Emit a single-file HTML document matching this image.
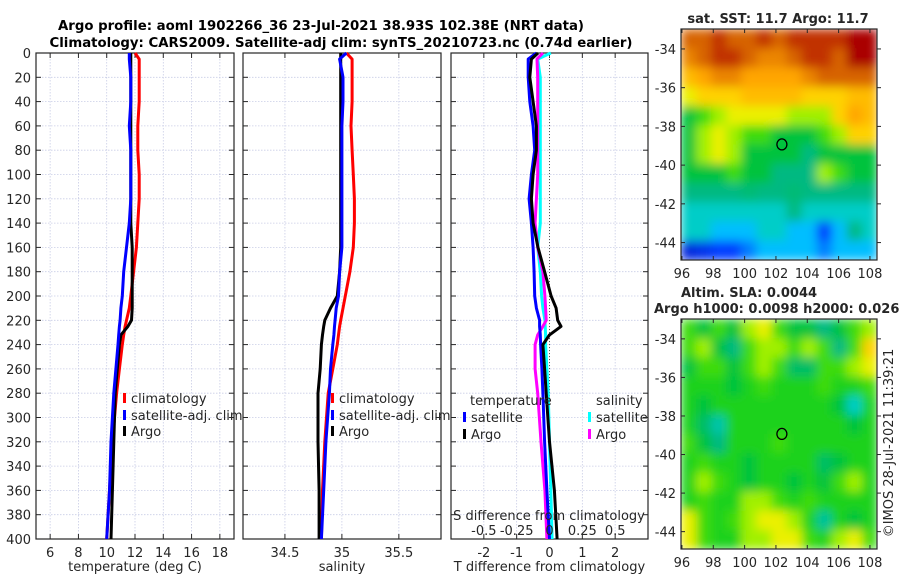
<!DOCTYPE html>
<html><head><meta charset="utf-8">
<style>
html,body{margin:0;padding:0;background:#fff;}
svg{display:block;font-family:"DejaVu Sans","Liberation Sans",sans-serif;}
</style></head>
<body>
<svg id="chart" width="900" height="580" viewBox="0 0 900 580" xmlns="http://www.w3.org/2000/svg">
<defs>
<filter id="smooth" x="0" y="0" width="1" height="1"><feGaussianBlur stdDeviation="5" edgeMode="duplicate"/></filter>
<clipPath id="clipTop"><rect x="681" y="29" width="196" height="231"/></clipPath>
<clipPath id="clipBot"><rect x="681" y="319" width="196" height="230"/></clipPath>
</defs>
<text x="321" y="30" font-size="13" font-weight="bold" text-anchor="middle" textLength="526" lengthAdjust="spacingAndGlyphs">Argo profile: aoml 1902266_36 23-Jul-2021 38.93S 102.38E (NRT data)</text>
<text x="341" y="47" font-size="13" font-weight="bold" text-anchor="middle" textLength="583" lengthAdjust="spacingAndGlyphs">Climatology: CARS2009. Satellite-adj clim: synTS_20210723.nc (0.74d earlier)</text>
<g id="layer"></g>
</svg>
<script>
// ---------- profile data ----------
const depths = [0,5,20,40,60,80,100,120,140,160,180,200,210,220,225,232,240,260,280,320,360,400];
const tClim = [12.0,12.3,12.3,12.3,12.2,12.2,12.3,12.3,12.2,12.1,11.9,11.7,11.6,11.4,11.3,11.2,11.1,10.9,10.7,10.4,10.2,10.0];
const tSat  = [11.6,11.6,11.7,11.7,11.6,11.7,11.7,11.7,11.6,11.4,11.2,11.1,11.0,10.95,10.9,10.85,10.8,10.65,10.5,10.3,10.2,10.0];
const tArgo = [11.7,11.7,11.7,11.7,11.7,11.7,11.7,11.7,11.7,11.8,11.8,11.8,11.8,11.75,11.5,11.0,10.9,10.75,10.6,10.5,10.4,10.3];
const sClim = [35.04,35.09,35.09,35.09,35.08,35.09,35.1,35.11,35.11,35.1,35.07,35.03,35.01,34.99,34.98,34.97,34.96,34.92,34.88,34.85,34.83,34.82];
const sSat  = [35.04,34.98,35.01,35.01,35.0,35.0,35.0,35.0,35.0,35.0,34.98,34.97,34.95,34.94,34.935,34.93,34.92,34.9,34.89,34.86,34.84,34.82];
const sArgo = [34.99,34.99,34.99,34.99,34.99,34.99,34.99,34.99,34.99,34.99,34.98,34.96,34.9,34.85,34.84,34.83,34.82,34.81,34.79,34.79,34.8,34.8];
const dTSat  = [-0.4,-0.65,-0.65,-0.6,-0.5,-0.45,-0.55,-0.62,-0.55,-0.5,-0.47,-0.45,-0.4,-0.3,-0.3,-0.28,-0.27,-0.23,-0.2,-0.15,-0.08,0];
const dTArgo = [-0.35,-0.55,-0.6,-0.5,-0.4,-0.4,-0.5,-0.55,-0.5,-0.35,-0.15,0.05,0.2,0.25,0.35,0,-0.2,-0.15,-0.1,0,0.15,0.23];
const dSSat  = [0.01,-0.09,-0.07,-0.07,-0.07,-0.07,-0.07,-0.07,-0.07,-0.09,-0.07,-0.06,-0.05,-0.035,-0.033,-0.03,-0.03,-0.02,-0.01,0,0.01,0.02];
const dSArgo = [-0.05,-0.095,-0.09,-0.09,-0.09,-0.09,-0.09,-0.1,-0.11,-0.09,-0.05,-0.035,-0.03,-0.025,-0.05,-0.09,-0.11,-0.11,-0.09,-0.065,-0.035,-0.02];
const depthTicks = [0,20,40,60,80,100,120,140,160,180,200,220,240,260,280,300,320,340,360,380,400];
const tempTicks = [6,8,10,12,14,16,18];
const salTicks = [34.5,35,35.5];
const dTTicks = [-2,-1,0,1,2];
const dSTicks = [-0.5,-0.25,0,0.25,0.5];
const dSTickLabels = ["-0.5","-0.25","0","0.25","0.5"];
// ---------- map data (color index 0..10) ----------
const lonTicks = [96,98,100,102,104,106,108];
const latTicks = [-34,-36,-38,-40,-42,-44];
const argoLon = 102.38, argoLat = -38.93;
const sstGrid = [
[8,8,8.5,8,8,8.5,8,8.5,8.5,8.5,8.5,9,9],
[7.5,8,8.5,8.5,8,7.5,7.5,8,8.5,8.5,8,9,9],
[6.5,7,7.5,7.5,7,7,7,7,7.5,8,8,8,8],
[5.5,6,6,6,6.5,6.5,6.5,6.5,6,6,6,6.5,6.5],
[4,4.5,5,5.5,5.5,5.5,5.5,5,5,5,6,7,6.5],
[4,5,5.5,5,4.5,4.5,4,4,4,4.5,5,6,6],
[4,5,5.5,5,4,4,4,4,3.5,4,4,4,4],
[4,4,4,4.5,4,4,3.5,3.5,3.5,5,4.5,4,4],
[3.5,3.5,3.5,3.5,3.6,3.5,3.5,3.6,3.5,3.5,3.5,3.5,3.5],
[3,3,3,3,3,3,3,3.5,3,3,3,3,3],
[3,3,2.5,2.5,2.5,3,3,2.5,2.5,1.5,2.5,3.5,3],
[1,1.2,1.5,1.5,2,2.5,2.5,2.5,2.5,2,2.5,2.5,2.5]];
const slaGrid = [
[4.5,4,4.5,4,5,5.5,4.5,4,4,3.5,4,4.5,5],
[4.5,5,4,3.5,4.5,5,5,4.5,5,4.5,3.5,4.5,6],
[4,4.5,4.5,4,4.5,5,4.5,3.7,3.7,4.5,4.5,5,5.5],
[4.3,4.3,4.3,4,4.3,4.5,4.3,4.3,4.3,4.5,4.3,4.3,4.5],
[4.3,4,4.3,4.3,4.3,4.3,4.3,4.3,4.3,4.3,4,3,4.3],
[4.3,3.7,3.2,4.3,4.3,4.3,4.3,4.3,4.3,4.3,4.3,4,4.3],
[4.5,4,3.5,4.3,4.3,4.3,4.5,4.3,4.3,4.3,4.3,4.3,4.3],
[4.3,4.5,4.3,4.3,4,4.3,4.3,4.3,4.3,3.7,4,4.3,4.3],
[4.3,5,4.5,4.3,4,4.3,4.3,4,4.3,4,4.5,5,4.3],
[4.3,4.5,4.3,4.3,5,5,4.5,4.3,4.5,4.3,4.3,4.3,4.3],
[5.5,4.5,4.3,4.5,5,5.5,5.5,5,4.3,3.3,4.3,4,4.3],
[5.5,4.5,4.3,4.3,5,5,5.5,5.5,4.5,4.3,5,5.5,4.5]];

const NS="http://www.w3.org/2000/svg";
const layer=document.getElementById('layer');
function mk(tag,attrs,parent){const e=document.createElementNS(NS,tag);for(const k in attrs)e.setAttribute(k,attrs[k]);(parent||layer).appendChild(e);return e;}
function txt(x,y,s,size,anchor,parent){const t=mk('text',{x:x,y:y,'font-size':size,'text-anchor':anchor||'middle',fill:'#262626'},parent);t.textContent=s;return t;}

const PT=53, PB=539;
const yD = d => PT + (d/400)*(PB-PT);
function panel(name,x0,x1,xmin,xmax,ticks,labels,xlabel,showY){
  const g=mk('g',{});
  
  
  const sx = v => x0 + (v-xmin)/(xmax-xmin)*(x1-x0);
  depthTicks.forEach(d=>{const l=mk('line',{x1:x0,x2:x1,y1:yD(d),y2:yD(d),stroke:'#c9cde6','stroke-width':0.8,'stroke-dasharray':'1.5,1.5'},g);
    
    mk('line',{x1:x0,x2:x0+5,y1:yD(d),y2:yD(d),stroke:'#262626'},g);
    mk('line',{x1:x1-5,x2:x1,y1:yD(d),y2:yD(d),stroke:'#262626'},g);
    if(showY){const t=txt(x0-5,yD(d)+5,String(d),13,'end',g);}
  });
  ticks.forEach((v,i)=>{const X=sx(v);
    const l=mk('line',{x1:X,x2:X,y1:PT,y2:PB,stroke:'#c9cde6','stroke-width':0.8,'stroke-dasharray':'1.5,1.5'},g);
    
    mk('line',{x1:X,x2:X,y1:PT,y2:PT+5,stroke:'#262626'},g);
    mk('line',{x1:X,x2:X,y1:PB-5,y2:PB,stroke:'#262626'},g);
    const t=txt(X,PB+18,labels[i],13,'middle',g);
    
  });
  const f=mk('rect',{x:x0,y:PT,width:x1-x0,height:PB-PT,fill:'none',stroke:'#262626','stroke-width':1.2},g);
  
  const xl=txt((x0+x1)/2,571,xlabel,13,'middle',g);
  
  return {g,sx};
}
function line(p,vals,color,name){
  const pts=vals.map((v,i)=>p.sx(v).toFixed(1)+','+yD(depths[i]).toFixed(1)).join(' ');
  const l=mk('polyline',{points:pts,fill:'none',stroke:color,'stroke-width':3,'stroke-linejoin':'round'},p.g);
  
  
}
function legend(p,x,y,color,label,name){
  mk('rect',{x:x,y:y-8,width:3,height:10,fill:color},p.g);
  const t=txt(x+8,y+2,label,13,'start',p.g);
  
  
}

// panel 1: temperature
const p1=panel('temperature-panel',36,234,5,19,tempTicks,tempTicks.map(String),'temperature (deg C)',true);
line(p1,tClim,'#ff0000','temp-climatology-line');
line(p1,tArgo,'#000000','temp-argo-line');
line(p1,tSat,'#0000ff','temp-satellite-line');
legend(p1,123,401,'#ff0000','climatology','legend-climatology');
legend(p1,123,418,'#0000ff','satellite-adj. clim','legend-satellite-adj');
legend(p1,123,434,'#000000','Argo','legend-argo');

// panel 2: salinity
const p2=panel('salinity-panel',243,441,34.132,35.87,salTicks,['34.5','35','35.5'],'salinity',false);
line(p2,sClim,'#ff0000','sal-climatology-line');
line(p2,sArgo,'#000000','sal-argo-line');
line(p2,sSat,'#0000ff','sal-satellite-line');
legend(p2,331,401,'#ff0000','climatology','legend-climatology-sal');
legend(p2,331,418,'#0000ff','satellite-adj. clim','legend-satellite-adj-sal');
legend(p2,331,434,'#000000','Argo','legend-argo-sal');

// panel 3: differences
const p3=panel('difference-panel',451,648,-3,3,dTTicks,dTTicks.map(String),'T difference from climatology',false);
const zl=mk('line',{x1:p3.sx(0),x2:p3.sx(0),y1:PT,y2:PB,stroke:'#555','stroke-dasharray':'1,2'},p3.g);

const sToT = v => v*4;
line(p3,dSSat.map(sToT),'#00ffff','sal-diff-satellite-line');
line(p3,dSArgo.map(sToT),'#ff00ff','sal-diff-argo-line');
line(p3,dTSat,'#0000ff','temp-diff-satellite-line');
line(p3,dTArgo,'#000000','temp-diff-argo-line');
const lt=txt(470,405,'temperature',13,'start',p3.g);
const ls=txt(596,405,'salinity',13,'start',p3.g);
legend(p3,463,420,'#0000ff','satellite','legend-t-satellite');
legend(p3,463,437,'#000000','Argo','legend-t-argo');
legend(p3,588,420,'#00ffff','satellite','legend-s-satellite');
legend(p3,588,437,'#ff00ff','Argo','legend-s-argo');
const sdt=txt(549,520,'S difference from climatology',13,'middle',p3.g);
dSTicks.forEach((v,i)=>{const t=txt(p3.sx(sToT(v)),535,dSTickLabels[i],13,'middle',p3.g);
  });

// ---------- maps ----------
const cstops=[[0,[0,0,150]],[1.5,[0,60,255]],[2.5,[0,190,255]],[3,[0,205,200]],[3.5,[0,185,130]],[4,[0,195,60]],[4.4,[40,215,20]],[5,[160,240,0]],[5.5,[235,240,0]],[6,[255,210,0]],[7,[255,165,0]],[8,[215,100,0]],[9,[170,0,0]],[10,[130,0,0]]];
function cmap(v){for(let i=1;i<cstops.length;i++){if(v<=cstops[i][0]){const a=cstops[i-1],b=cstops[i],t=(v-a[0])/(b[0]-a[0]);const c=a[1].map((x,k)=>Math.round(x+(b[1][k]-x)*t));return 'rgb('+c.join(',')+')';}}return 'rgb(130,0,0)';}
function map(name,grid,x0,x1,y0,y1,clipId){
  const g=mk('g',{});
  
  
  const lonMin=95.94, lonMax=108.45, latTop=-32.97, latBot=-44.9;
  const sx=l=>x0+(l-lonMin)/(lonMax-lonMin)*(x1-x0);
  const sy=l=>y0+(latTop-l)/(latTop-latBot)*(y1-y0);
  const clipG=mk('g',{'clip-path':'url(#'+clipId+')'},g);
  const cellsG=mk('g',{filter:'url(#smooth)'},clipG);
  const rows=grid.length, cols=grid[0].length, cw=(x1-x0)/cols, ch=(y1-y0)/rows;
  grid.forEach((row,r)=>row.forEach((v,c)=>{
    const cell=mk('rect',{x:(x0+c*cw).toFixed(2),y:(y0+r*ch).toFixed(2),width:(cw+0.6).toFixed(2),height:(ch+0.6).toFixed(2),fill:cmap(v)},cellsG);
    
    
  }));
  const fr=mk('rect',{x:x0,y:y0,width:x1-x0,height:y1-y0,fill:'none',stroke:'#262626','stroke-width':1.2},g);
  
  lonTicks.forEach(l=>{const X=sx(l);mk('line',{x1:X,x2:X,y1:y1,y2:y1-4,stroke:'#262626'},g);mk('line',{x1:X,x2:X,y1:y0,y2:y0+4,stroke:'#262626'},g);
    const t=txt(X,y1+18,String(l),13,'middle',g);});
  latTicks.forEach(l=>{const Y=sy(l);mk('line',{x1:x0,x2:x0+4,y1:Y,y2:Y,stroke:'#262626'},g);mk('line',{x1:x1,x2:x1+4,y1:Y,y2:Y,stroke:'#262626'},g);
    const t=txt(x0-5,Y+5,String(l),13,'end',g);});
  const m=mk('ellipse',{cx:sx(argoLon),cy:sy(argoLat),rx:5,ry:5.5,fill:'none',stroke:'#000','stroke-width':1.3},g);
  
  return g;
}
map('sst-map',sstGrid,681,877,29,260,'clipTop');
const t1=txt(778,23,'sat. SST: 11.7 Argo: 11.7',13,'middle');
t1.setAttribute('font-weight','bold');


map('sla-map',slaGrid,681,877,319,549,'clipBot');
const t2=txt(681,297,'Altim. SLA: 0.0044',13,'start');
t2.setAttribute('font-weight','bold');


const t3=txt(654,313,'Argo h1000: 0.0098 h2000: 0.026',13,'start');
t3.setAttribute('font-weight','bold');


const cp=txt(0,0,'©IMOS 28-Jul-2021 11:39:21',13,'middle');
cp.setAttribute('transform','translate(893,443) rotate(-90)');


</script>
</body></html>
